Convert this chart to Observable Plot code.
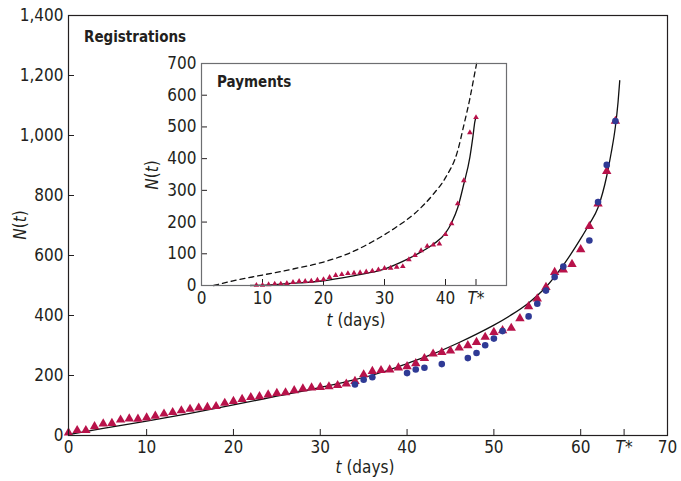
<!DOCTYPE html>
<html><head><meta charset="utf-8">
<script src="https://cdn.jsdelivr.net/npm/d3@7"></script>
<script src="https://cdn.jsdelivr.net/npm/@observablehq/plot@0.6"></script>
<style>
body{margin:0;background:#fff;}
#wrap{position:relative;width:681px;height:481px;}
#inset{position:absolute;left:140px;top:45px;}
</style></head><body><div id="wrap"><div id="main"></div><div id="inset"></div></div>
<script>
// ---- Registrations (main panel) ----
const regTriDays = [1,2,3,4,5,6,7,8,9,10,11,12,13,14,15,16,17,18,19,20,21,22,23,24,25,26,27,28,29,30,31,32,33,34,35,36,37,38,39,40,41,42,43,44,45,46,47,48,49,50,51,52,53,54,55,56,57,58,59,60,61,62,63,64];
const regTriValues = [9,17,17,30,39,41,52,56,55,59,65,72,77,83,88,92,94,97,108,114,121,127,130,136,141,143,150,156,159,161,163,167,172,181,203,214,217,219,226,230,240,257,272,277,282,292,300,311,328,344,350,358,390,430,456,494,544,552,571,620,697,772,881,1048];
const regDotDays = [34,35,36,40,41,42,44,47,48,49,50,51,54,55,56,57,58,61,62,63,64];
const regDotValues = [170,186,194,208,220,226,238,258,275,301,323,348,397,439,483,528,563,650,778,902,1048];
const regModelDays = [1,5,10,15,20,25,30,34,37,40,43,46,48,50,52,54,56,58,60,61,62,63,63.5,64,64.3,64.5];
const regModelValues = [3,24,48,74,102,131,160,186,210,240,272,310,338,368,402,442,495,568,656,705,760,865,940,1030,1110,1183];
const mainXTicks = [1,10,20,30,40,50,60,65,70];
const mainXLabels = ["0","10","20","30","40","50","60","T*","70"];
const mainYTicks = [0,200,400,600,800,1000,1200,1400];

// ---- Payments (inset) ----
const payTriDays = [9,10,11,12,13,14,15,16,17,18,19,20,21,22,23,24,25,26,27,28,29,30,31,32,33,34,35,36,37,38,39,40,41,42,43,44,45];
const payTriValues = [1,1,3,5,5,7,10,13,13,14,17,19,26,32,35,38,39,41,43,46,50,54,55,58,60,82,95,110,124,128,131,161,195,258,331,482,530];
const payModelDays = [8,12,16,20,24,27,30,33,36,38,40,41,42,43,44,44.5,44.8,45];
const payModelValues = [0,3,8,15,27,38,52,76,106,130,165,198,245,320,405,470,515,532];
const payDashedDays = [2,5,10,15,20,24,28,32,35,38,40,42,43,44,44.6,45.1];
const payDashedValues = [0,14,33,52,74,100,138,185,228,288,340,425,505,590,650,700];
const insetXTicks = [0,10,20,30,40,45];
const insetXLabels = ["0","10","20","30","40","T*"];
const insetYTicks = [0,100,200,300,400,500,600,700];

const FONT = '"Liberation Sans Narrow","Arial Narrow","DejaVu Sans Condensed","Roboto",sans-serif';
const INK = "#231f20";
const TRI = "#b8124a";
const DOT = "#2f3a95";

const zip = (xs, ys) => xs.map((x, i) => ({t: x, n: ys[i]}));
const mainXMap = new Map(mainXTicks.map((d, i) => [d, mainXLabels[i]]));
const insetXMap = new Map(insetXTicks.map((d, i) => [d, insetXLabels[i]]));

const main = Plot.plot({
  width: 681, height: 481,
  marginLeft: 68, marginRight: 14, marginTop: 15, marginBottom: 46,
  style: {fontFamily: FONT, fontSize: "17px", color: INK, background: "transparent"},
  x: {domain: [1, 70], label: null},
  y: {domain: [0, 1400], label: null},
  marks: [
    Plot.axisX(mainXTicks, {tickSize: -6, tickPadding: 11, tickFormat: d => mainXMap.get(d), label: null}),
    Plot.axisY(mainYTicks, {tickSize: -6, tickPadding: 11, tickFormat: d3.format(","), label: null}),
    Plot.line(zip(regModelDays, regModelValues), {x: "t", y: "n", stroke: "#111", strokeWidth: 1.3, curve: "monotone-x"}),
    Plot.dot(zip(regTriDays, regTriValues), {x: "t", y: "n", symbol: "triangle", r: 3.5, fill: TRI}),
    Plot.dot(zip(regDotDays, regDotValues), {x: "t", y: "n", symbol: "circle", r: 3.3, fill: DOT}),
    Plot.frame({stroke: INK, strokeWidth: 1.2})
  ]
});
document.getElementById("main").appendChild(main);

const inset = Plot.plot({
  width: 375, height: 295,
  marginLeft: 61, marginRight: 9, marginTop: 18, marginBottom: 55,
  style: {fontFamily: FONT, fontSize: "17px", color: INK, background: "transparent"},
  x: {domain: [0, 50], label: null},
  y: {domain: [0, 700], label: null},
  marks: [
    Plot.axisX(insetXTicks, {tickSize: -6, tickPadding: 12, tickFormat: d => insetXMap.get(d), label: null}),
    Plot.axisY(insetYTicks, {tickSize: -6, tickPadding: 11, tickFormat: d => String(d), label: null}),
    Plot.line(zip(payDashedDays, payDashedValues), {x: "t", y: "n", stroke: "#111", strokeWidth: 1.3, strokeDasharray: "5,4", curve: "monotone-x"}),
    Plot.line(zip(payModelDays, payModelValues), {x: "t", y: "n", stroke: "#111", strokeWidth: 1.3, curve: "monotone-x"}),
    Plot.dot(zip(payTriDays, payTriValues), {x: "t", y: "n", symbol: "triangle", r: 2.1, fill: TRI}),
    Plot.frame({stroke: "#6d6e71", strokeWidth: 1.2})
  ]
});
document.getElementById("inset").appendChild(inset);

function italicT(svg) {
  d3.select(svg).selectAll("text").filter(function () { return this.textContent === "T*"; })
    .attr("font-style", "italic");
}
italicT(main); italicT(inset);

function nt(sel) {
  sel.append("tspan").attr("font-style", "italic").text("N");
  sel.append("tspan").text("(");
  sel.append("tspan").attr("font-style", "italic").text("t");
  sel.append("tspan").text(")");
}
function tdays(sel) {
  sel.append("tspan").attr("font-style", "italic").text("t");
  sel.append("tspan").text(" (days)");
}

const ms = d3.select(main);
ms.append("text").attr("transform", "translate(26,225) rotate(-90)").attr("text-anchor", "middle")
  .attr("fill", INK).attr("font-size", 17).call(nt);
ms.append("text").attr("x", 365).attr("y", 473).attr("text-anchor", "middle")
  .attr("fill", INK).attr("font-size", 17).call(tdays);
ms.append("text").attr("x", 84).attr("y", 42).attr("text-anchor", "start").attr("font-weight", "bold")
  .attr("fill", INK).attr("font-size", 15).text("Registrations");

const is = d3.select(inset);
is.append("text").attr("transform", "translate(18,130) rotate(-90)").attr("text-anchor", "middle")
  .attr("fill", INK).attr("font-size", 17).call(nt);
is.append("text").attr("x", 216).attr("y", 281).attr("text-anchor", "middle")
  .attr("fill", INK).attr("font-size", 17).call(tdays);
is.append("text").attr("x", 77).attr("y", 42).attr("text-anchor", "start").attr("font-weight", "bold")
  .attr("fill", INK).attr("font-size", 15).text("Payments");
</script></body></html>
